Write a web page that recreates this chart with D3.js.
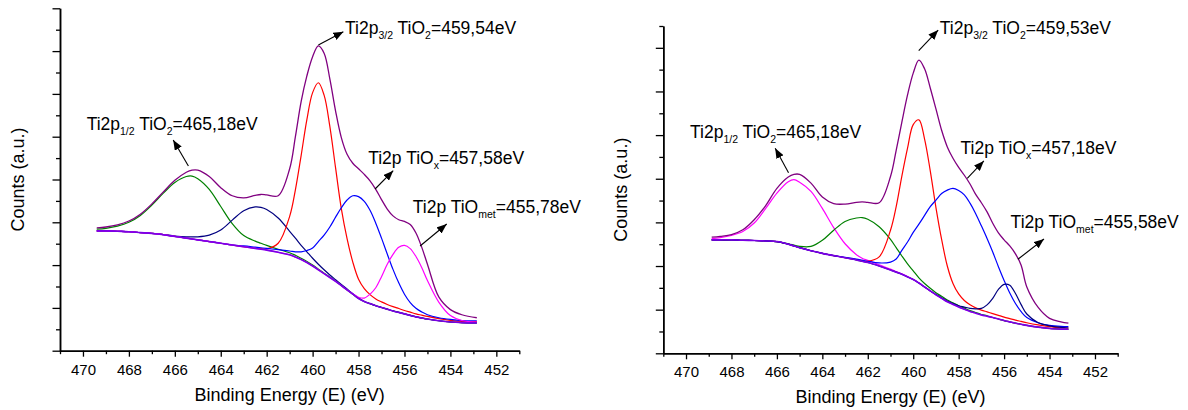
<!DOCTYPE html>
<html>
<head>
<meta charset="utf-8">
<script src="https://cdn.jsdelivr.net/npm/d3@7/dist/d3.min.js"></script>
<style>
  html,body{margin:0;padding:0;background:#fff;}
  svg{display:block;}
  text{font-family:"Liberation Sans",Arial,Helvetica,sans-serif;fill:#000;}
</style>
</head>
<body>
<svg id="chart" width="1188" height="410"></svg>
<script>
// ================= DATA =================
// ---- Left panel (A) ----
const energyA = [469.4, 469, 468.5, 468, 467.5, 467, 466.5, 466, 465.5, 465.25, 465, 464.5, 464, 463.5, 463, 462.5, 462.25, 462, 461.5, 461, 460.75, 460.5, 460.25, 460, 459.75, 459.5, 459.25, 459, 458.75, 458.5, 458.25, 458, 457.75, 457.5, 457.25, 457, 456.75, 456.5, 456.25, 456, 455.75, 455.5, 455.25, 455, 454.5, 454, 453.5, 452.85];
const backgroundA = [2.80, 2.80, 2.79, 2.78, 2.76, 2.74, 2.71, 2.67, 2.63, 2.61, 2.59, 2.55, 2.51, 2.47, 2.43, 2.39, 2.37, 2.35, 2.30, 2.24, 2.19, 2.13, 2.06, 1.98, 1.89, 1.80, 1.71, 1.62, 1.52, 1.42, 1.32, 1.22, 1.15, 1.10, 1.05, 1.01, 0.97, 0.93, 0.895, 0.86, 0.825, 0.79, 0.765, 0.74, 0.70, 0.67, 0.655, 0.65];
// component heights above background
const tio2HalfA = [0.04, 0.06, 0.12, 0.22, 0.40, 0.66, 0.97, 1.26, 1.44, 1.47, 1.43, 1.22, 0.86, 0.50, 0.26, 0.17, 0.14, 0.11, 0.07, 0.05, 0.04, 0.03, 0.025, 0.02, 0.015, 0.01, 0.01, 0.01, 0, 0, 0, 0, 0, 0, 0, 0, 0, 0, 0, 0, 0, 0, 0, 0, 0, 0, 0, 0];
const satelliteA = [0, 0, 0, 0, 0, 0, 0.005, 0.01, 0.03, 0.05, 0.07, 0.15, 0.31, 0.58, 0.84, 0.97, 0.98, 0.95, 0.80, 0.55, 0.44, 0.33, 0.25, 0.18, 0.13, 0.09, 0.06, 0.04, 0.03, 0.02, 0.01, 0.01, 0, 0, 0, 0, 0, 0, 0, 0, 0, 0, 0, 0, 0, 0, 0, 0];
const tio2MainA = [0, 0, 0, 0, 0, 0, 0, 0, 0, 0, 0, 0, 0, 0, 0, 0.01, 0.015, 0.03, 0.21, 0.90, 1.57, 2.43, 3.34, 4.05, 4.37, 4.17, 3.53, 2.65, 1.80, 1.20, 0.75, 0.45, 0.30, 0.21, 0.16, 0.13, 0.11, 0.10, 0.09, 0.08, 0.075, 0.07, 0.065, 0.06, 0.05, 0.04, 0.03, 0.03];
const tioxA = [0, 0, 0, 0, 0, 0, 0, 0, 0, 0, 0, 0, 0, 0, 0.02, 0.03, 0.035, 0.04, 0.06, 0.09, 0.12, 0.18, 0.28, 0.42, 0.66, 0.90, 1.18, 1.50, 1.82, 2.10, 2.30, 2.38, 2.34, 2.18, 1.93, 1.62, 1.29, 0.97, 0.69, 0.46, 0.30, 0.20, 0.14, 0.10, 0.07, 0.06, 0.05, 0.05];
const tiometA = [0, 0, 0, 0, 0, 0, 0, 0, 0, 0, 0, 0, 0, 0, 0, 0, 0, 0, 0, 0, 0, 0, 0, 0, 0, 0, 0, 0, 0, 0, 0.01, 0.03, 0.08, 0.22, 0.42, 0.72, 1.05, 1.32, 1.52, 1.60, 1.56, 1.41, 1.18, 0.90, 0.43, 0.15, 0.05, 0.02];
const envelopeA = [2.87, 2.89, 2.94, 3.03, 3.19, 3.43, 3.71, 3.98, 4.17, 4.22, 4.22, 4.07, 3.81, 3.62, 3.57, 3.63, 3.65, 3.64, 3.62, 4.25, 5.0, 5.82, 6.42, 6.87, 7.12, 6.95, 6.35, 5.60, 4.98, 4.59, 4.38, 4.25, 4.12, 3.97, 3.77, 3.53, 3.31, 3.15, 3.06, 3.02, 2.95, 2.75, 2.42, 2.02, 1.25, 0.96, 0.84, 0.77];

// ---- Right panel (B) ----
const energyB = [468.87, 468.5, 468, 467.5, 467, 466.5, 466, 465.5, 465.25, 465, 464.5, 464, 463.5, 463, 462.5, 462.25, 462, 461.5, 461, 460.75, 460.5, 460.25, 460, 459.75, 459.5, 459.25, 459, 458.75, 458.5, 458.25, 458, 457.75, 457.5, 457.25, 457, 456.75, 456.5, 456.25, 456, 455.75, 455.5, 455.25, 455, 454.5, 454, 453.5, 453.17];
const backgroundB = [2.60, 2.60, 2.60, 2.59, 2.585, 2.575, 2.56, 2.50, 2.46, 2.42, 2.35, 2.29, 2.24, 2.19, 2.14, 2.11, 2.08, 2.00, 1.91, 1.86, 1.81, 1.75, 1.69, 1.61, 1.52, 1.43, 1.34, 1.26, 1.18, 1.12, 1.06, 1.01, 0.96, 0.92, 0.88, 0.85, 0.82, 0.785, 0.75, 0.72, 0.69, 0.665, 0.64, 0.60, 0.57, 0.555, 0.55];
const tio2HalfB = [0.03, 0.05, 0.10, 0.20, 0.40, 0.74, 1.11, 1.43, 1.52, 1.50, 1.36, 1.03, 0.64, 0.32, 0.12, 0.07, 0.05, 0.03, 0.02, 0.015, 0.01, 0.01, 0, 0, 0, 0, 0, 0, 0, 0, 0, 0, 0, 0, 0, 0, 0, 0, 0, 0, 0, 0, 0, 0, 0, 0, 0];
const satelliteB = [0, 0, 0, 0, 0, 0, 0, 0.01, 0.02, 0.03, 0.10, 0.30, 0.58, 0.83, 0.96, 1.00, 0.99, 0.90, 0.70, 0.56, 0.42, 0.30, 0.20, 0.12, 0.08, 0.06, 0.05, 0.045, 0.04, 0.035, 0.03, 0.025, 0.02, 0.015, 0.01, 0.01, 0, 0, 0, 0, 0, 0, 0, 0, 0, 0, 0];
const tio2MainB = [0, 0, 0, 0, 0, 0, 0, 0, 0, 0, 0, 0, 0, 0, 0.005, 0.01, 0.03, 0.21, 0.91, 1.50, 2.25, 2.95, 3.55, 3.74, 3.39, 2.75, 2.00, 1.35, 0.82, 0.48, 0.30, 0.20, 0.15, 0.12, 0.11, 0.10, 0.09, 0.085, 0.08, 0.075, 0.07, 0.065, 0.06, 0.05, 0.04, 0.03, 0.03];
const tioxB = [0, 0, 0, 0, 0, 0, 0, 0, 0, 0, 0, 0, 0, 0.01, 0.02, 0.025, 0.03, 0.07, 0.18, 0.30, 0.55, 0.80, 1.08, 1.35, 1.64, 1.93, 2.17, 2.40, 2.56, 2.66, 2.67, 2.62, 2.48, 2.28, 2.04, 1.78, 1.50, 1.20, 0.92, 0.66, 0.45, 0.29, 0.18, 0.10, 0.07, 0.06, 0.06];
const tiometB = [0, 0, 0, 0, 0, 0, 0, 0, 0, 0, 0, 0, 0, 0, 0, 0, 0, 0, 0, 0, 0, 0, 0, 0, 0, 0, 0.01, 0.01, 0.02, 0.02, 0.03, 0.05, 0.07, 0.10, 0.15, 0.26, 0.44, 0.68, 0.83, 0.84, 0.68, 0.45, 0.26, 0.10, 0.06, 0.04, 0.03];
const envelopeB = [2.66, 2.68, 2.72, 2.83, 3.06, 3.38, 3.78, 4.04, 4.10, 4.10, 3.90, 3.58, 3.43, 3.42, 3.46, 3.47, 3.46, 3.45, 4.05, 4.65, 5.30, 5.92, 6.42, 6.72, 6.52, 6.08, 5.60, 5.11, 4.73, 4.47, 4.26, 4.08, 3.88, 3.64, 3.45, 3.24, 2.98, 2.76, 2.60, 2.46, 2.28, 2.02, 1.52, 1.05, 0.80, 0.72, 0.69];

// ---- ticks & texts ----
const xMajorTicks = [470, 468, 466, 464, 462, 460, 458, 456, 454, 452];
const xMinorTicks = [471, 469, 467, 465, 463, 461, 459, 457, 455, 453, 451];
const xTitle = "Binding Energy (E) (eV)";
const yTitle = "Counts (a.u.)";
const labelsA = ["Ti2p_{1/2} TiO_{2}=465,18eV", "Ti2p_{3/2} TiO_{2}=459,54eV", "Ti2p TiO_{x}=457,58eV", "Ti2p TiO_{met}=455,78eV"];
const labelsB = ["Ti2p_{1/2} TiO_{2}=465,18eV", "Ti2p_{3/2} TiO_{2}=459,53eV", "Ti2p TiO_{x}=457,18eV", "Ti2p TiO_{met}=455,58eV"];

// ================= LAYOUT / STYLE =================
const colors = {envelope:"#800080", background:"#7a00e6", green:"#008000", navy:"#000080", red:"#ff0000", blue:"#0000ff", magenta:"#ff00ff"};
// annotation anchors in data units: text start, arrow tail, arrow head
const annotA = [
  {tx:469.84, ty:5.157, x1:465.41, y1:4.315, x2:466.07, y2:4.923},
  {tx:458.59, ty:7.393, x1:459.75, y1:7.143, x2:458.66, y2:7.453},
  {tx:457.58, ty:4.355, x1:457.28, y1:3.778, x2:456.49, y2:4.206},
  {tx:455.64, ty:3.21,  x1:455.32, y1:2.446, x2:454.16, y2:2.960}
];
const annotB = [
  {tx:469.823, ty:4.927, x1:465.488, y1:4.138, x2:466.075, y2:4.698},
  {tx:458.83,  ty:7.310, x1:459.757, y1:6.934, x2:458.901, y2:7.408},
  {tx:457.918, ty:4.567, x1:457.622, y1:4.010, x2:456.891, y2:4.407},
  {tx:455.713, ty:2.878, x1:455.392, y1:2.154, x2:454.245, y2:2.619}
];

const panels = [
  {left:60, right:519.3, bottom:350.7, top:8.3, yMax:8,
   energy:energyA, bg:backgroundA, env:envelopeA,
   comps:[[tio2HalfA,colors.green],[satelliteA,colors.navy],[tio2MainA,colors.red],[tioxA,colors.blue],[tiometA,colors.magenta]],
   labels:labelsA, annot:annotA},
  {left:663.3, right:1117.7, bottom:353.3, top:26, yMax:7.5,
   energy:energyB, bg:backgroundB, env:envelopeB,
   comps:[[tio2HalfB,colors.magenta],[satelliteB,colors.green],[tio2MainB,colors.red],[tioxB,colors.blue],[tiometB,colors.navy]],
   labels:labelsB, annot:annotB}
];

const svg = d3.select("#chart");
svg.append("rect").attr("width",1188).attr("height",410).attr("fill","#fff");

const defs = svg.append("defs");
defs.append("marker").attr("id","arrowHead")
  .attr("markerUnits","userSpaceOnUse")
  .attr("markerWidth",10).attr("markerHeight",8)
  .attr("refX",10).attr("refY",4).attr("orient","auto")
  .append("path").attr("d","M0,0L10,4L0,8Z").attr("fill","#000");

function addLabel(g, str, x, y){
  const t = g.append("text").attr("x",x).attr("y",y).attr("font-size",17.5);
  const re = /_\{([^}]*)\}/g;
  let last = 0, m, shifted = false;
  while((m = re.exec(str)) !== null){
    if(m.index > last){
      t.append("tspan").attr("dy", shifted ? -5 : 0).text(str.slice(last, m.index));
      shifted = false;
    }
    t.append("tspan").attr("font-size",10.5).attr("dy", shifted ? 0 : 5).text(m[1]);
    shifted = true;
    last = re.lastIndex;
  }
  if(last < str.length){
    t.append("tspan").attr("dy", shifted ? -5 : 0).text(str.slice(last));
  }
}

panels.forEach(p => {
  const x = d3.scaleLinear().domain([471, 451]).range([p.left, p.right]);
  const y = d3.scaleLinear().domain([0, p.yMax]).range([p.bottom, p.top]);
  const g = svg.append("g");
  const line = d3.line().x(d => x(d[0])).y(d => y(d[1])).curve(d3.curveCatmullRom.alpha(0.5));

  // component curves (background + peak)
  p.comps.forEach(([h, col]) => {
    const pts = p.energy.map((e,i) => [e, p.bg[i] + h[i]]);
    g.append("path").attr("d", line(pts)).attr("fill","none").attr("stroke",col).attr("stroke-width",1.2);
  });
  // background
  g.append("path").attr("d", line(p.energy.map((e,i)=>[e,p.bg[i]])))
    .attr("fill","none").attr("stroke",colors.background).attr("stroke-width",1.6);
  // envelope
  g.append("path").attr("d", line(p.energy.map((e,i)=>[e,p.env[i]])))
    .attr("fill","none").attr("stroke",colors.envelope).attr("stroke-width",1.3);

  // axes
  const yMajor = d3.range(0, p.yMax + 0.001, 1);
  const yMinor = d3.range(0.5, p.yMax + 0.001, 1);
  const ax1 = g.append("g").attr("transform",`translate(0,${p.bottom})`)
    .call(d3.axisBottom(x).tickValues(xMinorTicks).tickSize(3.5).tickSizeOuter(0).tickFormat(""));
  const ax2 = g.append("g").attr("transform",`translate(0,${p.bottom})`)
    .call(d3.axisBottom(x).tickValues(xMajorTicks).tickSize(6).tickSizeOuter(0).tickPadding(7.5).tickFormat(d3.format("d")));
  const ay1 = g.append("g").attr("transform",`translate(${p.left},0)`)
    .call(d3.axisLeft(y).tickValues(yMinor).tickSize(4).tickSizeOuter(0).tickFormat(""));
  const ay2 = g.append("g").attr("transform",`translate(${p.left},0)`)
    .call(d3.axisLeft(y).tickValues(yMajor).tickSize(7.5).tickSizeOuter(0).tickFormat(""));
  [ax1,ax2,ay1,ay2].forEach(a => {
    a.selectAll("path.domain").attr("stroke","#000").attr("stroke-width",1.5);
    a.selectAll(".tick line").attr("stroke","#000").attr("stroke-width",1.3);
  });
  ax2.selectAll(".tick text").attr("font-size",15).attr("fill","#000")
     .attr("font-family",'"Liberation Sans",Arial,sans-serif');

  // titles
  g.append("text").attr("x",(p.left+p.right)/2).attr("y",p.bottom+50)
    .attr("text-anchor","middle").attr("font-size",18).text(xTitle);
  g.append("text").attr("transform",`translate(${p.left-36},${(p.top+p.bottom)/2}) rotate(-90)`)
    .attr("text-anchor","middle").attr("font-size",18).text(yTitle);

  // annotations
  p.annot.forEach((a,i) => {
    g.append("line").attr("x1",x(a.x1)).attr("y1",y(a.y1)).attr("x2",x(a.x2)).attr("y2",y(a.y2))
      .attr("stroke","#000").attr("stroke-width",1.1).attr("marker-end","url(#arrowHead)");
    addLabel(g, p.labels[i], x(a.tx), y(a.ty));
  });
});
</script>
</body>
</html>
